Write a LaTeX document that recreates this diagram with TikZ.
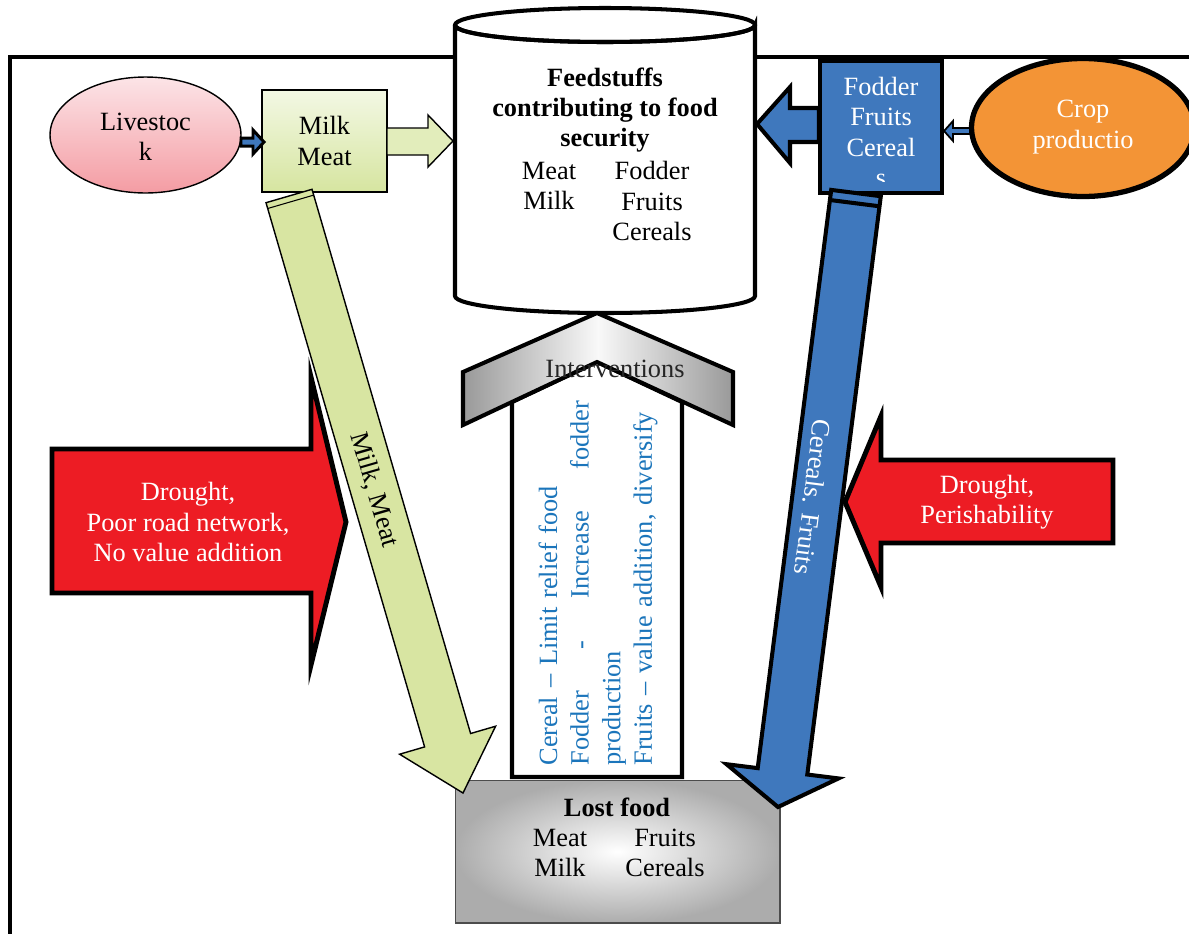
\documentclass[tikz,border=0pt]{standalone}
\usepackage{fontspec}
\setmainfont{Liberation Serif}
\usetikzlibrary{shapes.geometric}
\definecolor{pinkA}{HTML}{FCE4E7}
\definecolor{pinkB}{HTML}{F49CA3}
\definecolor{greenA}{HTML}{F3F8E4}
\definecolor{greenB}{HTML}{D6E5A0}
\definecolor{lime}{HTML}{D8E5A2}
\definecolor{barblue}{HTML}{3F78BD}
\definecolor{cropor}{HTML}{F39436}
\definecolor{alarm}{HTML}{ED1C24}
\definecolor{txtblue}{HTML}{1B75BB}

\begin{document}
\begin{tikzpicture}[
  x=0.02cm, y=-0.02cm,
  font=\fontsize{15}{17.3}\selectfont,
  txt/.style={inner sep=0pt, align=center},
  thinline/.style={draw=black, line width=0.8pt},
  thickline/.style={draw=black, line width=2.3pt},
  bluearrow/.style={thickline, fill=barblue},
  redarrow/.style={draw=black, line width=2.8pt, fill=alarm},
  greenarrow/.style={thinline, fill=lime}
]
\useasboundingbox (0,0) rectangle (1189,934);
\clip (0,0) rectangle (1189,934);

% frame
\draw[line width=2.3pt] (1189,57) -- (10,57) -- (10,934);

% feedstuffs cylinder
\draw[thickline, fill=white] (455,25) -- (455,296)
  arc[start angle=180, end angle=0, x radius=150, y radius=17]
  -- (755,25) arc[start angle=0, end angle=180, x radius=150, y radius=17];
\draw[thickline] (605,25) ellipse[x radius=150, y radius=17];
\node[txt, font=\fontsize{15}{17.3}\selectfont\bfseries] (feedhead) at (605,110)
  {Feedstuffs\\ contributing to food\\ security};
\node[txt] (feedL) at (549,186) {Meat\\ Milk};
\node[txt] (feedR) at (652,201) {Fodder\\ Fruits\\ Cereals};

% livestock side
\node[ellipse, thinline, top color=pinkA, bottom color=pinkB, inner sep=0pt,
  minimum width=3.82cm, minimum height=2.32cm] (live) at (145.5,135) {};
\node[txt] (livetxt) at (145.5,137) {Livestoc\\ k};
\node[rectangle, thinline, top color=greenA, bottom color=greenB, inner sep=0pt,
  minimum width=2.5cm, minimum height=2.04cm, align=center] (milk) at (324.5,141) {Milk\\ Meat};
\draw[draw=black, line width=1.7pt, fill=barblue] (241,138) -- (253,138) -- (253,130) -- (264,142)
  -- (253,154) -- (253,146) -- (241,146) -- cycle;
\draw[thinline, fill=greenA!40!greenB] (387,128) -- (428,128) -- (428,115) -- (453,141)
  -- (428,167) -- (428,155) -- (387,155) -- cycle;

% crop side
\node[rectangle, thickline, fill=barblue, inner sep=0pt,
  minimum width=2.44cm, minimum height=2.64cm] (fodder) at (881,127) {};
\begin{scope}
  \clip (819,60) rectangle (943,181);
  \node[txt, text=white] (foddertxt) at (881,132) {Fodder\\ Fruits\\ Cereal\\ s};
\end{scope}
\node[ellipse, draw=black, line width=3pt, fill=cropor, inner sep=0pt,
  minimum width=4.46cm, minimum height=2.76cm] (crop) at (1083,127.5) {};
\node[txt, text=white] (croptxt) at (1083,127) {Crop\\ productio};
\draw[bluearrow] (819,108) -- (790,108) -- (790,87) -- (757,124) -- (790,163) -- (790,142) -- (819,142) -- cycle;
\draw[draw=black, line width=1pt, fill=barblue] (970,128) -- (953,128) -- (953,121) -- (944,131)
  -- (953,141) -- (953,134) -- (970,134) -- cycle;

% interventions
\draw[thickline, fill=white] (512,777) -- (512,402) -- (597,362) -- (682,402) -- (682,777) -- cycle;
\draw[thickline, left color=gray!80, right color=gray!80, middle color=gray!5]
  (463,372) -- (597,313) -- (733,372) -- (733,425) -- (597,362) -- (463,425) -- cycle;
\node[txt, text=black!85] (interv) at (615,369) {Interventions};
\node[txt, rotate=90, text width=7.3cm, align=left, text=txtblue,
  font=\fontsize{15}{18}\selectfont] (plan) at (598,583)
  {Cereal -- Limit relief food\\
   \makebox[7.3cm][l]{Fodder\hfill-\hfill Increase\hfill fodder}\\
   production\\
   Fruits -- value addition, diversify};

% lost food
\node[rectangle, draw=black!70, line width=0.6pt, shading=radial, inner color=white, outer color=gray!65,
  minimum width=6.5cm, minimum height=2.86cm] (lost) at (617.5,851.5) {};
\node[txt, font=\fontsize{15}{17.3}\selectfont\bfseries] (losthead) at (617,807) {Lost food};
\node[txt] (lostL) at (560,853) {Meat\\ Milk};
\node[txt] (lostR) at (665,853) {Fruits\\ Cereals};

% losses along the way
\draw[greenarrow] (266,202.7) -- (312,189.3) -- (470.6,733.5) -- (495.6,726.2) -- (463,793)
  -- (399.6,754.2) -- (424.6,746.9) -- cycle;
\draw[line width=0.6pt] (267.7,208.5) -- (313.7,195.1);
\node[txt, rotate=-73.8] (mm) at (374,490) {Milk, Meat};
\draw[bluearrow] (831.2,189.9) -- (880.8,196.2) -- (807.3,774.5) -- (838.5,778.4) -- (778,807)
  -- (726.5,764.2) -- (757.7,768.1) -- cycle;
\draw[line width=2.3pt] (830,200) -- (879.6,206.3);
\node[txt, rotate=-97.2, text=white] (cf) at (813,497) {Cereals. Fruits};

% constraints
\draw[redarrow] (52,449) -- (311,449) -- (311,377) -- (346,522) -- (311,665) -- (311,593) -- (52,593) -- cycle;
\node[txt, text=white] (dleft) at (188,522) {Drought,\\ Poor road network,\\ No value addition};
\draw[redarrow] (1113,460) -- (881,460) -- (881,416) -- (845,502) -- (881,587) -- (881,543) -- (1113,543) -- cycle;
\node[txt, text=white] (dright) at (987,502) {Drought,\\ Perishability};

\end{tikzpicture}
\end{document}
